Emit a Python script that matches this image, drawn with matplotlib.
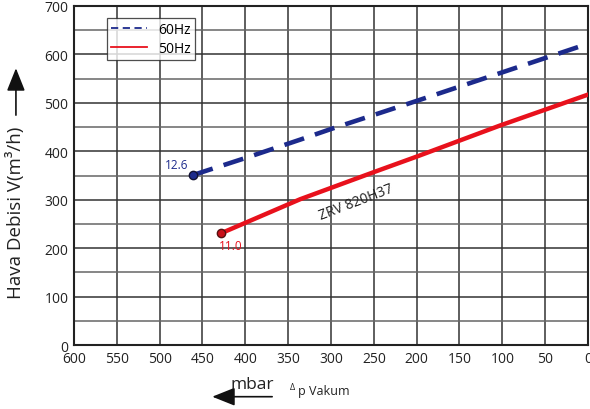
#!/usr/bin/env python3
"""Vakum pompasi ZRV 820H37 - hava debisi / vakum egrisi."""
import matplotlib

matplotlib.use("Agg")
import matplotlib.pyplot as plt  # noqa: E402
from matplotlib.lines import Line2D  # noqa: E402
from matplotlib.patches import FancyArrowPatch  # noqa: E402

plt.rcParams["font.family"] = ["Open Sans", "DejaVu Sans"]

# 60Hz curve (vacuum mbar -> flow m3/h)
P60 = [461, 400, 336, 300, 200, 100, 0]
Q60 = [351, 386, 424, 446, 504, 563, 622]
# 50Hz curve
P50 = [428, 336, 250, 200, 103, 0]
Q50 = [231, 301, 357, 389, 453, 517]

LABEL60 = "12.6"
LABEL50 = "11.0"
MODEL = "ZRV 820H37"

NAVY = "#1c2a8c"
RED = "#e8111c"

fig = plt.figure(figsize=(5.9, 4.1), dpi=100)
ax = fig.add_axes([0.1254, 0.156, 0.8712, 0.827])

ax.plot(P60, Q60, ls=(0, (4.5, 2.5)), color=NAVY, lw=3.3, zorder=3)
ax.plot(P50, Q50, "-", color=RED, lw=3.2, zorder=3)
ax.plot(P60[0], Q60[0], "o", color=NAVY, ms=6, mec="#111133", zorder=4)
ax.plot(P50[0], Q50[0], "o", color="#c8101a", ms=6, mec="#551111", zorder=4)
ax.text(P60[0] + 5, Q60[0] + 8, LABEL60, color=NAVY, fontsize=8.5, ha="right", va="bottom")
ax.text(P50[0] - 11, Q50[0] - 12, LABEL50, color=RED, fontsize=8.5, ha="center", va="top")
ax.text(270, 295, MODEL, color="#222222", fontsize=10, rotation=21, ha="center", va="center")

ax.set_xlim(600, 0)
ax.set_ylim(0, 700)
ax.set_xticks(range(600, -1, -50))
ax.set_yticks(range(0, 701, 100))
ax.set_yticks(range(50, 700, 100), minor=True)
ax.tick_params(axis="both", length=0, labelsize=10, colors="#222222", pad=4)
ax.tick_params(axis="y", which="minor", length=0)
ax.grid(True, which="major", color="#333333", lw=1.1)
ax.grid(True, which="minor", axis="y", color="#666666", lw=1.1)
for s in ax.spines.values():
    s.set_color("#222222")
    s.set_linewidth(1.5)

handles = [Line2D([], [], ls=(0, (4, 2.5)), color=NAVY, lw=1.3),
           Line2D([], [], ls="-", color=RED, lw=1.3)]
leg = ax.legend(handles, ["60Hz", "50Hz"], loc="upper left",
                bbox_to_anchor=(0.05, 0.985), fontsize=10,
                frameon=True, fancybox=False, edgecolor="#222222",
                handlelength=2.6, borderpad=0.3, labelspacing=0.25)
leg.get_frame().set_linewidth(0.9)

# y label with arrow
fig.text(0.027, 0.48, "Hava Debisi V(m³/h)", rotation=90, fontsize=13.5,
         ha="center", va="center", color="#222222")
fig.add_artist(FancyArrowPatch(
    (0.027, 0.71), (0.027, 0.838), transform=fig.transFigure,
    arrowstyle="-|>,head_length=7,head_width=2.8", color="#111111", lw=1.2,
    mutation_scale=2))

# x label with arrow
fig.text(0.39, 0.06, "mbar", fontsize=12.5, ha="left", va="center", color="#222222")
fig.add_artist(FancyArrowPatch(
    (0.466, 0.03), (0.355, 0.03), transform=fig.transFigure,
    arrowstyle="-|>,head_length=7,head_width=2.8", color="#111111", lw=1.2,
    mutation_scale=2))
fig.text(0.492, 0.055, "Δ", fontsize=6.5, ha="left", va="center", color="#222222")
fig.text(0.505, 0.045, "p Vakum", fontsize=9, ha="left", va="center", color="#222222")

fig.savefig("out.png", dpi=100)
